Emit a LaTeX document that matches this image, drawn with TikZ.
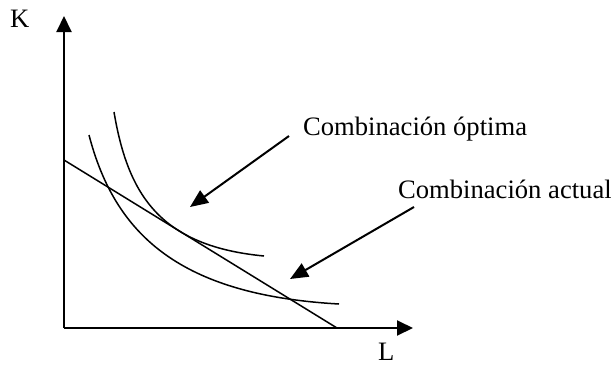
\documentclass[tikz,border=0pt]{standalone}
\usepackage{fontspec}
\setmainfont{Liberation Serif}
\usetikzlibrary{arrows.meta}
\begin{document}
\begin{tikzpicture}[x=1pt,y=-1pt,
  axis/.style={line width=2pt,-{Triangle[length=16pt,width=15pt]}},
  pointer/.style={line width=2pt,-{Triangle[length=18pt,width=15pt]}},
  curve/.style={line width=1.5pt},
  lbl/.style={inner sep=0pt,anchor=base west,font=\fontsize{26.6}{30}\selectfont}]
\useasboundingbox (0,0) rectangle (611,365);
% axes
\coordinate (O) at (64,328);
\coordinate (Ktop) at (64,16);
\coordinate (Lend) at (413,328);
\draw[axis] (O) -- (Ktop);
\draw[axis] (O) -- (Lend);
\node[lbl] (K) at (10,27) {K};
\node[lbl] (L) at (378,360) {L};
% budget line
\coordinate (b1) at (64,160);
\coordinate (b2) at (337,328);
\draw[curve] (b1) -- (b2);
% isoquants
\draw[curve] (89,135) .. controls (115,235) and (180,295) .. (339,304);
\draw[curve] (114,112) .. controls (128,195) and (160,246) .. (264,256);
% labels
\node[lbl] (opt) at (303,135) {Combinación óptima};
\node[lbl] (act) at (398,198) {Combinación actual};
\coordinate (optS) at (289,136);
\coordinate (optT) at (190,207);
\coordinate (actS) at (414,207);
\coordinate (actT) at (290,279);
\draw[pointer] (optS) -- (optT);
\draw[pointer] (actS) -- (actT);
\end{tikzpicture}
\end{document}
